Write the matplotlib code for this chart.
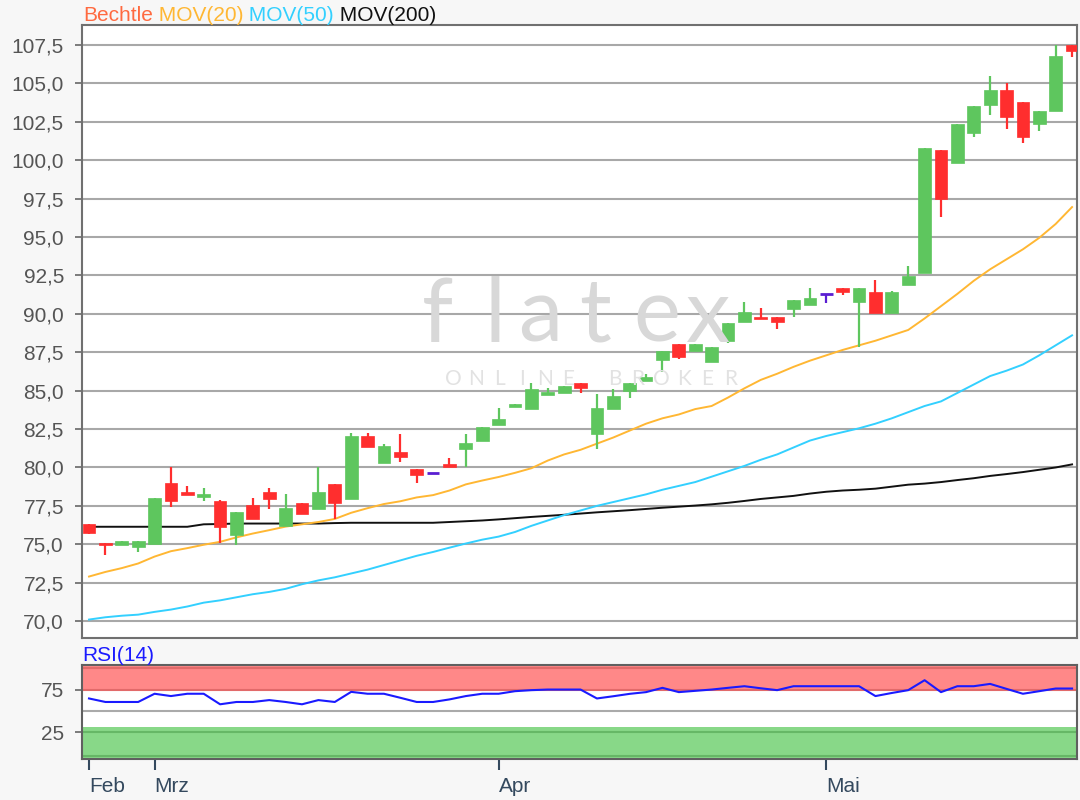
import matplotlib
matplotlib.use("Agg")
import matplotlib.pyplot as plt
import numpy as np
from matplotlib.ticker import FuncFormatter

plt.rcParams['font.family'] = ['Liberation Sans', 'DejaVu Sans']

# Bechtle daily candles 25.02. - 23.05.2019
opens = [76.30, 75.10, 74.95, 74.80, 75.05, 79.00, 78.40, 78.05, 77.83, 75.60,
         77.55, 78.38, 76.18, 77.70, 77.27, 78.90, 77.92, 82.04, 80.27, 81.00,
         79.88, 79.66, 80.20, 81.18, 81.72, 82.76, 83.95, 83.78, 84.71, 84.82,
         85.52, 82.21, 83.78, 84.97, 85.65, 86.99, 88.03, 87.60, 86.89, 88.25,
         89.50, 89.82, 89.82, 90.29, 90.57, 91.27, 91.66, 90.79, 91.40, 90.08,
         91.87, 92.63, 100.66, 99.79, 101.74, 103.59, 104.57, 103.77, 102.33, 103.20,
         107.50]
highs = [76.35, 75.10, 75.23, 75.23, 78.00, 80.00, 78.80, 78.65, 77.85, 77.07,
         78.00, 78.64, 78.27, 77.70, 80.00, 78.90, 82.26, 82.26, 81.52, 82.17,
         79.88, 79.66, 80.60, 82.17, 82.66, 83.84, 84.10, 85.51, 85.15, 85.30,
         85.52, 84.76, 85.09, 85.52, 86.08, 87.60, 88.03, 88.01, 87.86, 89.42,
         90.75, 90.35, 89.82, 90.90, 91.66, 91.27, 91.66, 91.66, 92.20, 91.50,
         93.11, 100.77, 100.66, 102.33, 103.53, 105.48, 105.05, 103.77, 103.20, 107.50,
         107.50]
lows = [75.70, 74.30, 74.95, 74.50, 75.05, 77.40, 78.18, 77.80, 75.10, 74.95,
        76.64, 77.27, 76.18, 77.00, 77.27, 76.64, 77.92, 81.31, 80.27, 80.38,
        78.96, 79.66, 80.04, 80.04, 81.72, 82.76, 83.95, 83.78, 84.71, 84.82,
        84.82, 81.18, 83.78, 84.54, 85.65, 86.24, 87.04, 87.60, 86.89, 88.08,
        89.50, 89.66, 88.99, 89.82, 90.57, 90.68, 91.22, 87.86, 90.08, 90.08,
        91.87, 92.63, 96.28, 99.79, 101.48, 102.94, 102.00, 101.09, 101.90, 103.20,
        106.70]
closes = [75.72, 74.95, 75.20, 75.20, 78.00, 77.80, 78.20, 78.27, 76.15, 77.07,
          76.65, 77.92, 77.33, 77.00, 78.42, 77.66, 82.04, 81.31, 81.40, 80.66,
          79.50, 79.66, 80.05, 81.62, 82.66, 83.15, 84.10, 85.10, 84.89, 85.30,
          85.19, 83.84, 84.65, 85.52, 85.91, 87.60, 87.17, 88.01, 87.86, 89.42,
          90.10, 89.66, 89.49, 90.90, 91.00, 91.27, 91.40, 91.66, 90.08, 91.40,
          92.46, 100.77, 97.45, 102.33, 103.53, 104.57, 102.79, 101.48, 103.20, 106.76,
          107.11]

mov20 = [72.90, 73.20, 73.45, 73.75, 74.20, 74.55, 74.75, 74.97, 75.16, 75.45,
         75.70, 75.92, 76.15, 76.30, 76.45, 76.65, 77.05, 77.35, 77.62, 77.80,
         78.05, 78.20, 78.50, 78.90, 79.15, 79.38, 79.65, 79.95, 80.45, 80.85,
         81.15, 81.55, 81.95, 82.40, 82.85, 83.20, 83.45, 83.80, 84.00, 84.55,
         85.15, 85.70, 86.10, 86.55, 86.95, 87.30, 87.65, 87.95, 88.25, 88.60,
         88.95, 89.70, 90.50, 91.30, 92.15, 92.90, 93.55, 94.20, 94.95, 95.85,
         96.95]
mov50 = [70.10, 70.25, 70.35, 70.42, 70.60, 70.75, 70.95, 71.20, 71.35, 71.55,
         71.75, 71.90, 72.10, 72.40, 72.65, 72.85, 73.10, 73.35, 73.65, 73.95,
         74.25, 74.50, 74.78, 75.05, 75.30, 75.50, 75.80, 76.20, 76.55, 76.90,
         77.20, 77.50, 77.75, 78.00, 78.25, 78.55, 78.80, 79.05, 79.40, 79.75,
         80.10, 80.50, 80.85, 81.30, 81.75, 82.05, 82.30, 82.55, 82.85, 83.20,
         83.60, 84.00, 84.30, 84.85, 85.40, 85.95, 86.30, 86.70, 87.30, 87.95,
         88.60]
mov200 = [76.14, 76.14, 76.14, 76.14, 76.14, 76.14, 76.14, 76.30, 76.32, 76.35,
          76.35, 76.35, 76.35, 76.35, 76.35, 76.38, 76.40, 76.40, 76.40, 76.40,
          76.40, 76.40, 76.45, 76.50, 76.55, 76.62, 76.70, 76.78, 76.85, 76.92,
          77.00, 77.08, 77.15, 77.22, 77.30, 77.38, 77.45, 77.52, 77.60, 77.70,
          77.82, 77.95, 78.05, 78.15, 78.30, 78.42, 78.50, 78.55, 78.62, 78.75,
          78.88, 78.95, 79.05, 79.18, 79.30, 79.45, 79.57, 79.70, 79.85, 80.00,
          80.20]
rsi14 = [64.6, 60.5, 60.5, 60.5, 70.1, 67.4, 70.1, 70.1, 57.8, 60.5,
         60.5, 62.7, 60.5, 57.8, 62.7, 60.5, 72.3, 70.1, 70.1, 65.4,
         60.5, 60.5, 63.5, 67.4, 70.1, 70.1, 73.1, 74.3, 75.0, 75.0,
         75.0, 64.6, 67.2, 70.0, 72.0, 77.0, 72.0, 73.5, 75.0, 77.0,
         78.9, 76.5, 74.3, 78.9, 78.9, 78.9, 78.9, 78.9, 67.4, 71.0,
         74.3, 85.9, 72.0, 78.9, 78.9, 81.6, 75.8, 70.1, 73.1, 76.2,
         76.2]

month_pos = [0, 4, 25, 45]
month_labels = ["Feb", "Mrz", "Apr", "Mai"]
price_ticks = np.arange(70.0, 108.0, 2.5)

green = "#5ec65e"
red = "#ff2e2e"
doji = "#5a1ed2"

fig = plt.figure(figsize=(10.8, 8), dpi=100, facecolor="#f7f7f7")
ax = fig.add_axes([0.0759, 0.2025, 0.9213, 0.76625])
rx = fig.add_axes([0.0759, 0.0513, 0.9213, 0.1175])

days = list(range(len(closes)))

# watermark behind the price panel
for ch, px in zip("flatex", [438, 495, 540, 595, 657, 708]):
    fig.text(px / 1080, 1 - 342 / 800, ch, fontsize=64, color="#d8d8d8",
             family="Lato", ha="center", va="baseline", zorder=0)
for k, ch in enumerate("ONLINE BROKER"):
    fig.text((453 + 23.1 * k) / 1080, 1 - 385 / 800, ch, fontsize=15, color="#e2e2e2",
             family="Lato", ha="center", va="baseline", zorder=0)
ax.patch.set_alpha(0)
fig.patches.append(plt.Rectangle((0.0759, 0.2025), 0.9213, 0.76625, transform=fig.transFigure,
                                 facecolor="white", zorder=-1))

# moving averages
ax.plot(days, mov200, color="#111111", lw=1.4, zorder=2)
ax.plot(days, mov50, color="#33d0ff", lw=1.4, zorder=2)
ax.plot(days, mov20, color="#ffb733", lw=1.4, zorder=2)

# candles
up = [i for i in days if closes[i] > opens[i]]
down = [i for i in days if closes[i] < opens[i]]
flat = [i for i in days if closes[i] == opens[i]]
for idx, col in ((up, green), (down, red)):
    ax.vlines(idx, [lows[i] for i in idx], [highs[i] for i in idx], color=col, lw=1.6, zorder=3)
    ax.bar(idx, [abs(closes[i] - opens[i]) for i in idx],
           bottom=[min(opens[i], closes[i]) for i in idx],
           width=0.78, color=col, edgecolor=col, lw=0.5, zorder=4)
ax.vlines(flat, [lows[i] for i in flat], [highs[i] for i in flat], color=doji, lw=1.6, zorder=3)
ax.hlines([closes[i] for i in flat], [i - 0.39 for i in flat], [i + 0.39 for i in flat],
          color=doji, lw=2, zorder=4)

ax.set_xlim(-0.43, 60.3)
ax.set_ylim(68.9, 108.8)
ax.set_yticks(price_ticks)
ax.yaxis.set_major_formatter(FuncFormatter(lambda v, p: f"{v:.1f}".replace(".", ",")))
ax.grid(axis="y", color="#a8a8a8", lw=1.5)
ax.set_axisbelow(True)
ax.tick_params(axis="y", length=5, width=1.2, color="#666666", pad=8,
               labelsize=15, labelcolor="#555555")
ax.tick_params(axis="x", bottom=False, labelbottom=False)
for s in ax.spines.values():
    s.set_color("#707070")
    s.set_linewidth(1.5)

# legend line
t = fig.text(83 / 1080, 1 - 21 / 800, "Bechtle", color="#ff6a40", fontsize=15, va="baseline")
for s, c in ((" MOV(20)", "#ffb733"), (" MOV(50)", "#33d0ff"), (" MOV(200)", "#111111")):
    t = ax.annotate(s, xy=(1, 0), xycoords=t, va="bottom", ha="left", color=c, fontsize=15,
                    annotation_clip=False)

# RSI panel
rx.set_facecolor("white")
rx.axhspan(75, 110, color="#ff8888", lw=0, zorder=0)
rx.axhspan(-10, 31.5, color="#88d888", lw=0, zorder=0)
rx.axhline(100, color="#e26a6a", lw=1.5, zorder=1)
rx.axhline(75, color="#e26a6a", lw=1.5, zorder=1)
rx.axhline(25, color="#66b866", lw=1.5, zorder=1)
rx.axhline(-2.5, color="#66b866", lw=1.5, zorder=1)
rx.axhline(50, color="#aaaaaa", lw=1.5, zorder=1)
rx.plot(days, rsi14, color="#1a1aff", lw=1.5, zorder=2)
rx.set_xlim(-0.43, 60.3)
rx.set_ylim(-6, 103.7)
rx.set_yticks([25, 75])
rx.tick_params(axis="y", length=5, width=1.2, color="#666666", pad=8,
               labelsize=15, labelcolor="#555555")
rx.set_xticks(month_pos)
rx.set_xticklabels(month_labels, ha="left")
rx.tick_params(axis="x", length=8, width=1.5, color="#34495e", pad=5,
               labelsize=15, labelcolor="#34495e")
for s in rx.spines.values():
    s.set_color("#606060")
    s.set_linewidth(1.5)
fig.text(82 / 1080, 1 - 661 / 800, "RSI(14)", color="#1a1aff", fontsize=15, va="baseline")

fig.savefig("out.png", dpi=100, facecolor=fig.get_facecolor())
